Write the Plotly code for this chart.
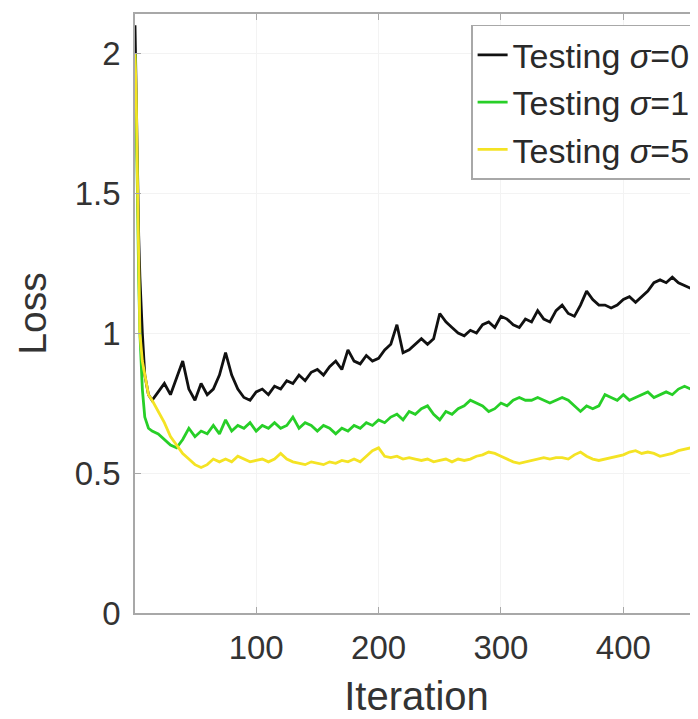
import plotly.graph_objects as go

# ---- data ----
iterations = [1, 2, 3, 4, 5, 7, 9, 12, 15] + list(range(20, 461, 5))

loss_sigma0 = [2.10, 1.90, 1.60, 1.35, 1.20, 1.00, 0.85, 0.78, 0.76,
    0.79, 0.82, 0.78, 0.84, 0.90, 0.80, 0.76, 0.82, 0.78, 0.80, 0.85, 0.93, 0.85, 0.80,
    0.77, 0.76, 0.79, 0.80, 0.78, 0.81, 0.80, 0.83, 0.82, 0.85, 0.83, 0.86, 0.87, 0.85,
    0.88, 0.90, 0.87, 0.94, 0.90, 0.89, 0.92, 0.90, 0.91, 0.94, 0.96, 1.03, 0.93, 0.94,
    0.96, 0.98, 0.96, 0.98, 1.07, 1.04, 1.02, 1.00, 0.99, 1.01, 1.00, 1.03, 1.04, 1.02,
    1.06, 1.05, 1.03, 1.02, 1.05, 1.04, 1.08, 1.05, 1.04, 1.08, 1.10, 1.07, 1.06, 1.10,
    1.15, 1.12, 1.10, 1.10, 1.09, 1.10, 1.12, 1.13, 1.11, 1.13, 1.15, 1.18, 1.19, 1.18,
    1.20, 1.18, 1.17, 1.16, 1.15]

loss_sigma1 = [2.00, 1.80, 1.50, 1.20, 1.00, 0.80, 0.70, 0.66, 0.65,
    0.64, 0.62, 0.60, 0.59, 0.62, 0.66, 0.63, 0.65, 0.64, 0.67, 0.64, 0.69, 0.65, 0.67,
    0.66, 0.68, 0.65, 0.67, 0.66, 0.68, 0.66, 0.67, 0.70, 0.66, 0.68, 0.67, 0.65, 0.67,
    0.66, 0.64, 0.66, 0.65, 0.67, 0.66, 0.68, 0.67, 0.69, 0.68, 0.70, 0.71, 0.69, 0.72,
    0.71, 0.73, 0.74, 0.71, 0.69, 0.72, 0.71, 0.73, 0.74, 0.76, 0.75, 0.74, 0.72, 0.73,
    0.75, 0.74, 0.76, 0.77, 0.76, 0.76, 0.77, 0.76, 0.75, 0.76, 0.77, 0.76, 0.74, 0.72,
    0.74, 0.73, 0.74, 0.78, 0.77, 0.76, 0.78, 0.76, 0.77, 0.78, 0.79, 0.77, 0.78, 0.79,
    0.78, 0.80, 0.81, 0.80, 0.795]

loss_sigma5 = [2.00, 1.85, 1.55, 1.25, 1.00, 0.90, 0.85, 0.78, 0.76,
    0.72, 0.68, 0.63, 0.60, 0.57, 0.55, 0.53, 0.52, 0.53, 0.55, 0.54, 0.55, 0.54, 0.56,
    0.55, 0.54, 0.545, 0.55, 0.54, 0.55, 0.57, 0.55, 0.54, 0.535, 0.53, 0.54, 0.535, 0.53,
    0.54, 0.535, 0.545, 0.54, 0.55, 0.54, 0.56, 0.58, 0.59, 0.56, 0.555, 0.56, 0.55, 0.555,
    0.55, 0.545, 0.55, 0.54, 0.545, 0.55, 0.54, 0.55, 0.545, 0.55, 0.56, 0.565, 0.575, 0.57,
    0.56, 0.55, 0.54, 0.535, 0.54, 0.545, 0.55, 0.555, 0.55, 0.555, 0.555, 0.55, 0.565, 0.575,
    0.56, 0.55, 0.545, 0.55, 0.555, 0.56, 0.565, 0.575, 0.58, 0.57, 0.575, 0.57, 0.56, 0.565,
    0.57, 0.58, 0.585, 0.59, 0.59]

series_names = ["Testing <i>σ</i>=0", "Testing <i>σ</i>=1", "Testing <i>σ</i>=5"]
series_values = [loss_sigma0, loss_sigma1, loss_sigma5]
series_colors = ["#111111", "#27cf27", "#f4e324"]

x_ticks = [100, 200, 300, 400]
y_ticks = [0, 0.5, 1, 1.5, 2]
y_tick_labels = ["0", "0.5", "1", "1.5", "2"]

FONT = "Liberation Sans, Arial, sans-serif"
TXT = "#333333"
AX = "#a8a8a8"

fig = go.Figure()
for name, vals, col in zip(series_names, series_values, series_colors):
    fig.add_trace(go.Scatter(x=iterations, y=vals, mode="lines", name=name,
                             line=dict(color=col, width=2.8)))

fig.update_layout(
    width=698, height=719,
    margin=dict(l=127, r=8, t=6, b=114, autoexpand=False),
    paper_bgcolor="white", plot_bgcolor="white",
    font=dict(family=FONT, color=TXT, size=33),
    showlegend=True,
    legend=dict(x=0.597, y=0.982, xanchor="left", yanchor="top",
                bgcolor="white", bordercolor="#a8a8a8", borderwidth=1.5,
                font=dict(family=FONT, size=34, color="#2a2a2a"),
                itemwidth=30, tracegroupgap=0),
)
fig.update_xaxes(
    range=[1, 461], tickvals=x_ticks, ticks="inside", ticklen=6, tickcolor=AX,
    showline=True, linecolor=AX, linewidth=1.5, mirror="ticks",
    showgrid=True, gridcolor="#f3f3f3", gridwidth=1, zeroline=False,
    tickfont=dict(family=FONT, size=33, color=TXT), ticklabelstandoff=5,
    title=dict(text="Iteration", font=dict(family=FONT, size=40, color=TXT), standoff=17),
)
fig.update_yaxes(
    range=[0, 2.14], tickvals=y_ticks, ticktext=y_tick_labels, ticks="inside", ticklen=6,
    tickcolor=AX, showline=True, linecolor=AX, linewidth=1.5, mirror=False,
    showgrid=True, gridcolor="#f3f3f3", gridwidth=1, zeroline=False,
    tickfont=dict(family=FONT, size=33, color=TXT), ticklabelstandoff=6,
    title=dict(text="Loss", font=dict(family=FONT, size=39, color=TXT), standoff=16),
)

fig.write_html("out.html")
